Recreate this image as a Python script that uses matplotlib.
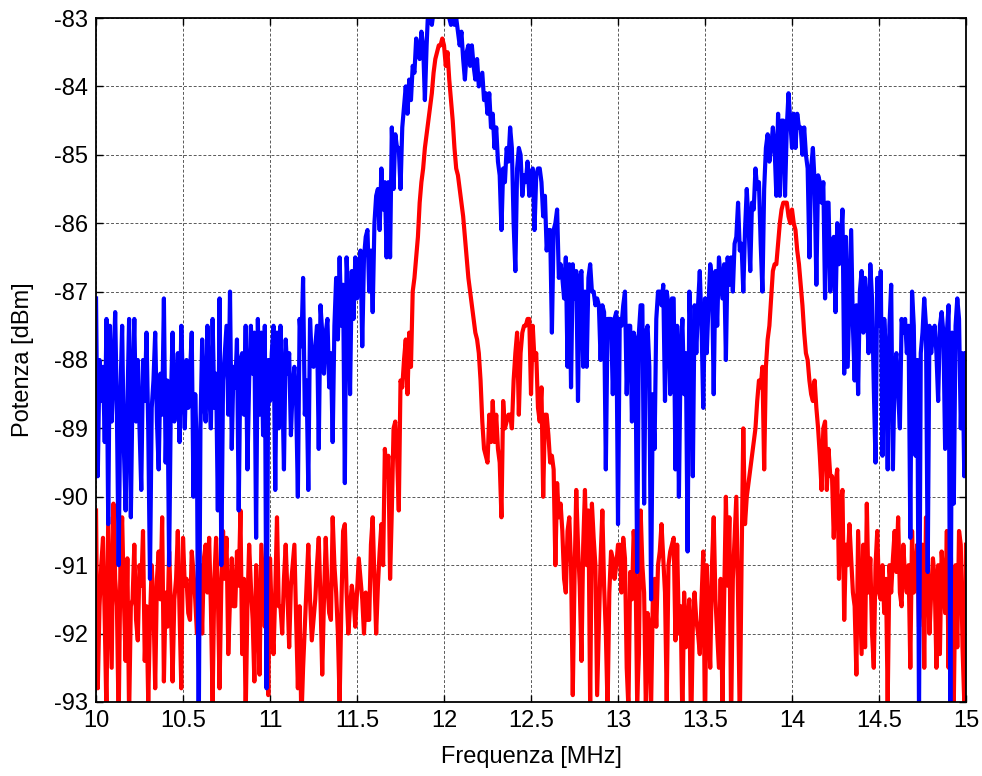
import matplotlib
matplotlib.use("Agg")
import matplotlib.pyplot as plt
import numpy as np
from matplotlib.ticker import FormatStrFormatter, MultipleLocator

# frequency grid of the analyser trace: 501 samples, 10 kHz apart
freq = np.linspace(10.0, 15.0, 501)

# blue trace [dBm], 10 samples per row (row start frequency in comment)
blue = [
    -87.1, -89.7, -88.0, -88.6, -88.1, -89.2, -87.4, -90.4, -87.5, -88.9,  # 10.0
    -88.2, -87.3, -88.8, -91.0, -88.5, -87.5, -89.3, -90.2, -88.7, -87.4,  # 10.1
    -90.3, -88.4, -87.4, -88.9, -88.0, -89.0, -89.9, -88.0, -88.6, -87.6,  # 10.2
    -89.0, -91.2, -88.7, -88.3, -87.6, -88.9, -89.6, -88.2, -88.8, -87.1,  # 10.3
    -89.5, -88.3, -91.0, -88.6, -87.6, -88.9, -88.6, -87.9, -89.2, -87.5,  # 10.4
    -88.4, -89.0, -88.0, -88.7, -88.2, -87.6, -90.0, -88.5, -89.4, -93.6,  # 10.5
    -89.0, -87.7, -88.6, -88.9, -87.5, -88.4, -89.0, -87.4, -88.7, -88.2,  # 10.6
    -90.2, -87.1, -91.0, -88.3, -87.9, -87.5, -88.8, -87.0, -89.3, -88.1,  # 10.7
    -88.4, -87.7, -90.2, -88.0, -87.9, -88.8, -87.5, -89.6, -88.3, -87.5,  # 10.8
    -88.2, -87.6, -90.6, -87.4, -88.8, -87.6, -89.1, -87.5, -92.8, -88.0,  # 10.9
    -88.6, -87.9, -87.5, -89.9, -87.6, -89.0, -87.5, -88.3, -89.6, -87.7,  # 11.0
    -88.2, -87.9, -89.1, -88.4, -88.1, -88.6, -90.0, -87.4, -87.8, -86.8,  # 11.1
    -88.8, -88.3, -89.9, -87.4, -88.0, -88.1, -87.8, -87.5, -89.3, -87.2,  # 11.2
    -87.6, -88.2, -87.6, -87.4, -88.4, -87.9, -89.2, -87.5, -86.8, -87.7,  # 11.3
    -86.5, -87.5, -86.9, -89.8, -86.5, -87.1, -88.5, -86.7, -87.4, -86.5,  # 11.4
    -87.1, -86.7, -86.4, -87.8, -86.5, -86.2, -86.1, -87.0, -86.4, -87.3,  # 11.5
    -86.0, -85.6, -85.5, -86.1, -85.2, -85.8, -85.4, -86.5, -85.4, -86.5,  # 11.6
    -84.6, -85.5, -84.7, -84.9, -84.9, -85.5, -84.6, -84.3, -84.0, -84.4,  # 11.7
    -83.9, -84.2, -83.7, -83.8, -83.3, -83.5, -83.6, -83.2, -83.4, -84.2,  # 11.8
    -83.4, -82.8, -83.0, -83.1, -82.9, -82.7, -82.8, -82.6, -82.9, -82.7,  # 11.9
    -82.8, -82.9, -82.7, -83.0, -83.1, -82.9, -83.1, -83.0, -83.2, -83.4,  # 12.0
    -83.2, -83.6, -83.9, -83.5, -83.4, -83.7, -83.4, -83.7, -83.9, -83.6,  # 12.1
    -84.0, -83.9, -83.8, -84.2, -84.1, -84.4, -84.1, -84.6, -84.4, -84.9,  # 12.2
    -84.6, -85.1, -85.3, -86.1, -85.2, -85.4, -84.9, -85.1, -84.6, -84.9,  # 12.3
    -86.0, -86.7, -85.2, -84.9, -85.0, -85.6, -85.3, -85.4, -85.1, -85.6,  # 12.4
    -85.3, -85.2, -86.1, -85.3, -85.2, -85.2, -85.4, -85.9, -85.6, -86.4,  # 12.5
    -86.1, -86.1, -87.6, -86.1, -86.0, -85.8, -86.8, -86.6, -86.8, -87.1,  # 12.6
    -86.5, -88.1, -86.6, -88.4, -86.6, -87.1, -86.7, -88.6, -86.8, -86.7,  # 12.7
    -88.1, -87.0, -88.1, -86.8, -86.6, -87.0, -87.0, -87.2, -87.1, -87.2,  # 12.8
    -88.0, -87.2, -87.3, -89.6, -87.4, -87.4, -87.4, -88.5, -87.4, -87.3,  # 12.9
    -90.4, -87.4, -87.5, -87.2, -87.0, -88.5, -87.5, -87.5, -88.9, -87.6,  # 13.0
    -87.7, -91.1, -87.6, -87.2, -87.2, -90.1, -87.6, -87.5, -88.1, -91.5,  # 13.1
    -88.5, -89.3, -87.4, -87.0, -87.0, -87.2, -86.9, -88.6, -87.0, -87.2,  # 13.2
    -88.5, -87.1, -87.1, -89.6, -87.5, -90.0, -87.9, -87.4, -88.5, -87.9,  # 13.3
    -90.8, -87.0, -87.8, -89.7, -87.2, -87.9, -87.2, -86.7, -87.5, -88.7,  # 13.4
    -87.1, -87.9, -87.2, -86.6, -86.8, -88.5, -86.7, -87.5, -86.5, -86.8,  # 13.5
    -87.1, -86.6, -88.0, -86.5, -86.9, -86.5, -87.0, -86.3, -86.2, -85.7,  # 13.6
    -86.4, -86.3, -87.0, -86.1, -85.5, -86.0, -86.7, -85.7, -85.8, -85.2,  # 13.7
    -85.5, -85.4, -86.3, -87.0, -85.5, -84.9, -84.7, -85.1, -84.9, -84.6,  # 13.8
    -84.9, -85.6, -84.4, -85.6, -84.5, -84.5, -85.6, -84.6, -84.1, -84.5,  # 13.9
    -84.9, -84.4, -84.9, -84.4, -84.6, -84.6, -85.0, -84.6, -85.0, -85.2,  # 14.0
    -86.5, -85.2, -84.9, -85.4, -86.9, -85.3, -85.4, -85.7, -85.4, -87.1,  # 14.1
    -85.7, -85.7, -87.0, -86.3, -86.2, -87.3, -86.0, -86.6, -86.3, -85.8,  # 14.2
    -88.2, -86.2, -88.1, -87.1, -86.1, -87.5, -88.3, -87.2, -88.5, -87.0,  # 14.3
    -86.7, -87.6, -86.8, -87.2, -87.9, -86.6, -87.1, -88.4, -89.5, -86.8,  # 14.4
    -87.5, -86.7, -89.4, -87.4, -87.9, -89.6, -87.5, -86.9, -89.6, -88.1,  # 14.5
    -87.9, -88.5, -89.0, -87.4, -87.6, -87.4, -87.9, -87.5, -90.6, -87.0,  # 14.6
    -87.5, -89.4, -88.0, -93.2, -87.9, -87.6, -87.1, -87.5, -91.1, -87.5,  # 14.7
    -87.9, -87.6, -87.5, -87.9, -88.6, -87.5, -87.3, -87.6, -89.3, -87.6,  # 14.8
    -87.2, -93.2, -87.6, -90.1, -87.5, -87.1, -87.4, -89.0, -87.9, -89.7,  # 14.9
    -87.9,                                                                 # 15.0
]

# red trace [dBm]
red = [
    -90.2, -92.8, -91.6, -91.0, -90.6, -91.8, -93.2, -90.3, -91.4, -92.5,  # 10.0
    -90.1, -91.2, -91.6, -93.3, -91.0, -90.3, -91.5, -92.4, -90.9, -93.2,  # 10.1
    -91.6, -91.5, -90.7, -91.8, -92.1, -91.0, -91.3, -90.5, -92.4, -91.6,  # 10.2
    -93.0, -91.8, -91.0, -91.6, -92.8, -91.2, -90.8, -91.5, -90.3, -92.7,  # 10.3
    -91.4, -91.9, -90.8, -91.6, -92.7, -91.5, -91.2, -90.5, -91.7, -92.8,  # 10.4
    -90.6, -91.3, -91.2, -91.7, -91.8, -90.8, -91.1, -91.5, -92.0, -91.4,  # 10.5
    -91.0, -92.0, -90.9, -90.7, -91.4, -90.6, -91.6, -93.0, -91.2, -90.6,  # 10.6
    -91.4, -92.8, -91.3, -90.5, -91.2, -90.6, -92.3, -91.5, -90.9, -91.6,  # 10.7
    -91.6, -90.8, -91.3, -90.2, -92.3, -91.2, -93.2, -91.6, -90.7, -91.3,  # 10.8
    -91.8, -92.7, -91.0, -91.6, -92.6, -90.7, -91.3, -91.9, -91.3, -92.9,  # 10.9
    -90.9, -91.8, -92.3, -91.4, -90.3, -91.6, -91.6, -92.0, -91.2, -90.7,  # 11.0
    -91.4, -92.2, -91.3, -91.0, -90.7, -91.8, -92.8, -91.6, -93.3, -92.5,  # 11.1
    -91.9, -91.3, -90.7, -91.5, -92.1, -91.8, -91.5, -91.0, -90.6, -91.5,  # 11.2
    -92.6, -91.5, -90.6, -91.3, -91.7, -91.8, -90.3, -91.0, -91.4, -92.0,  # 11.3
    -93.0, -91.6, -90.5, -90.4, -91.4, -92.0, -91.6, -91.3, -91.5, -91.9,  # 11.4
    -91.4, -90.9, -91.2, -91.5, -92.0, -91.4, -91.8, -91.8, -90.7, -90.3,  # 11.5
    -91.2, -92.0, -91.3, -90.8, -90.4, -91.0, -89.3, -89.7, -89.4, -91.2,  # 11.6
    -90.2, -89.0, -88.9, -89.4, -90.2, -88.3, -88.4, -88.0, -87.7, -88.5,  # 11.7
    -87.6, -88.1, -87.0, -86.8, -86.5, -86.2, -85.7, -85.4, -85.2, -84.9,  # 11.8
    -84.7, -84.5, -84.3, -84.1, -83.8, -83.6, -83.5, -83.4, -83.4, -83.3,  # 11.9
    -83.4, -83.7, -83.5, -83.9, -84.2, -84.5, -84.9, -85.2, -85.3, -85.5,  # 12.0
    -85.7, -85.9, -86.2, -86.5, -86.8, -87.0, -87.2, -87.4, -87.6, -87.7,  # 12.1
    -87.9, -88.3, -88.9, -89.3, -89.4, -89.5, -88.8, -89.2, -88.6, -89.2,  # 12.2
    -88.8, -89.3, -89.5, -90.3, -88.6, -89.0, -88.9, -88.8, -88.8, -89.0,  # 12.3
    -88.3, -87.9, -87.6, -88.8, -87.9, -87.6, -87.5, -87.5, -87.4, -87.4,  # 12.4
    -88.5, -87.5, -88.0, -87.9, -88.7, -88.9, -88.4, -90.0, -88.8, -88.8,  # 12.5
    -89.1, -89.5, -89.4, -89.6, -91.0, -89.8, -90.3, -90.1, -90.5, -91.2,  # 12.6
    -91.4, -90.5, -90.3, -91.0, -92.9, -91.2, -89.9, -90.7, -91.3, -92.4,  # 12.7
    -90.7, -89.9, -91.0, -90.2, -93.1, -90.1, -90.6, -91.0, -92.9, -91.9,  # 12.8
    -90.9, -90.2, -91.3, -92.0, -93.1, -91.4, -90.8, -90.9, -91.2, -91.0,  # 12.9
    -90.7, -90.7, -91.4, -90.6, -90.9, -92.5, -93.1, -91.1, -91.5, -90.5,  # 13.0
    -90.9, -93.0, -92.3, -90.2, -91.0, -91.4, -93.1, -91.7, -91.9, -93.1,  # 13.1
    -91.5, -91.2, -91.9, -91.0, -90.8, -90.4, -90.9, -91.4, -93.0, -91.0,  # 13.2
    -90.8, -90.7, -90.6, -92.1, -90.7, -92.0, -91.6, -93.3, -91.4, -92.2,  # 13.3
    -91.8, -91.5, -93.5, -91.9, -91.4, -91.8, -92.0, -92.3, -91.5, -90.8,  # 13.4
    -93.4, -91.0, -91.8, -92.5, -91.0, -90.3, -91.5, -92.0, -92.5, -91.2,  # 13.5
    -93.0, -91.5, -90.0, -91.3, -90.3, -93.3, -91.2, -90.6, -90.0, -91.5,  # 13.6
    -93.3, -91.0, -89.0, -90.4, -90.0, -89.8, -89.6, -89.4, -89.2, -89.0,  # 13.7
    -88.6, -88.3, -88.4, -88.1, -89.6, -88.1, -87.7, -87.5, -87.1, -86.7,  # 13.8
    -86.6, -86.6, -86.3, -86.0, -85.8, -85.7, -85.7, -85.7, -85.9, -86.0,  # 13.9
    -85.8, -86.0, -86.1, -86.4, -86.6, -86.9, -87.2, -87.6, -87.9, -88.0,  # 14.0
    -88.3, -88.5, -88.6, -88.3, -88.7, -89.0, -89.4, -89.9, -89.0, -88.9,  # 14.1
    -89.9, -89.3, -89.7, -89.7, -90.6, -89.8, -89.6, -91.2, -90.1, -89.9,  # 14.2
    -91.8, -90.7, -91.0, -90.4, -90.9, -91.4, -91.6, -92.6, -90.5, -91.4,  # 14.3
    -92.3, -90.7, -92.2, -90.1, -91.4, -90.9, -92.0, -92.5, -91.0, -90.5,  # 14.4
    -91.4, -91.5, -91.0, -91.7, -91.2, -93.0, -91.0, -91.4, -90.9, -90.5,  # 14.5
    -91.1, -90.3, -91.4, -91.6, -90.7, -91.2, -91.4, -91.0, -92.5, -90.5,  # 14.6
    -91.4, -91.1, -90.7, -91.9, -91.1, -90.7, -92.5, -90.3, -91.0, -92.0,  # 14.7
    -91.4, -90.9, -91.2, -92.5, -91.0, -92.3, -90.8, -91.2, -91.7, -90.5,  # 14.8
    -92.5, -90.5, -91.6, -93.0, -91.0, -92.2, -90.5, -90.7, -92.2, -93.0,  # 14.9
    -90.7,                                                                 # 15.0
]

plt.rcParams["font.family"] = ["Liberation Sans", "DejaVu Sans"]

fig = plt.figure(figsize=(9.82, 7.76), dpi=100)
ax = fig.add_axes([0.0978, 0.0954, 0.8859, 0.8814])

ax.plot(freq, red, color="#ff0000", lw=3.0, zorder=3)
ax.plot(freq, blue, color="#0000ff", lw=3.0, zorder=4)

ax.set_xlim(10, 15)
ax.set_ylim(-93, -83)
ax.xaxis.set_major_locator(MultipleLocator(0.5))
ax.yaxis.set_major_locator(MultipleLocator(1))
ax.xaxis.set_major_formatter(FormatStrFormatter("%g"))
ax.yaxis.set_major_formatter(FormatStrFormatter("%g"))

ax.grid(True, color="0.35", ls=(0, (3, 2)), lw=0.7, zorder=1)
ax.tick_params(direction="in", length=5, width=1, top=True, right=True,
               labelsize=17, pad=6)
for sp in ax.spines.values():
    sp.set_linewidth(1.3)
    sp.set_zorder(5)

ax.set_xlabel("Frequenza [MHz]", fontsize=17, labelpad=10)
ax.set_ylabel("Potenza [dBm]", fontsize=17, labelpad=14)

fig.savefig("out.png", dpi=100)
